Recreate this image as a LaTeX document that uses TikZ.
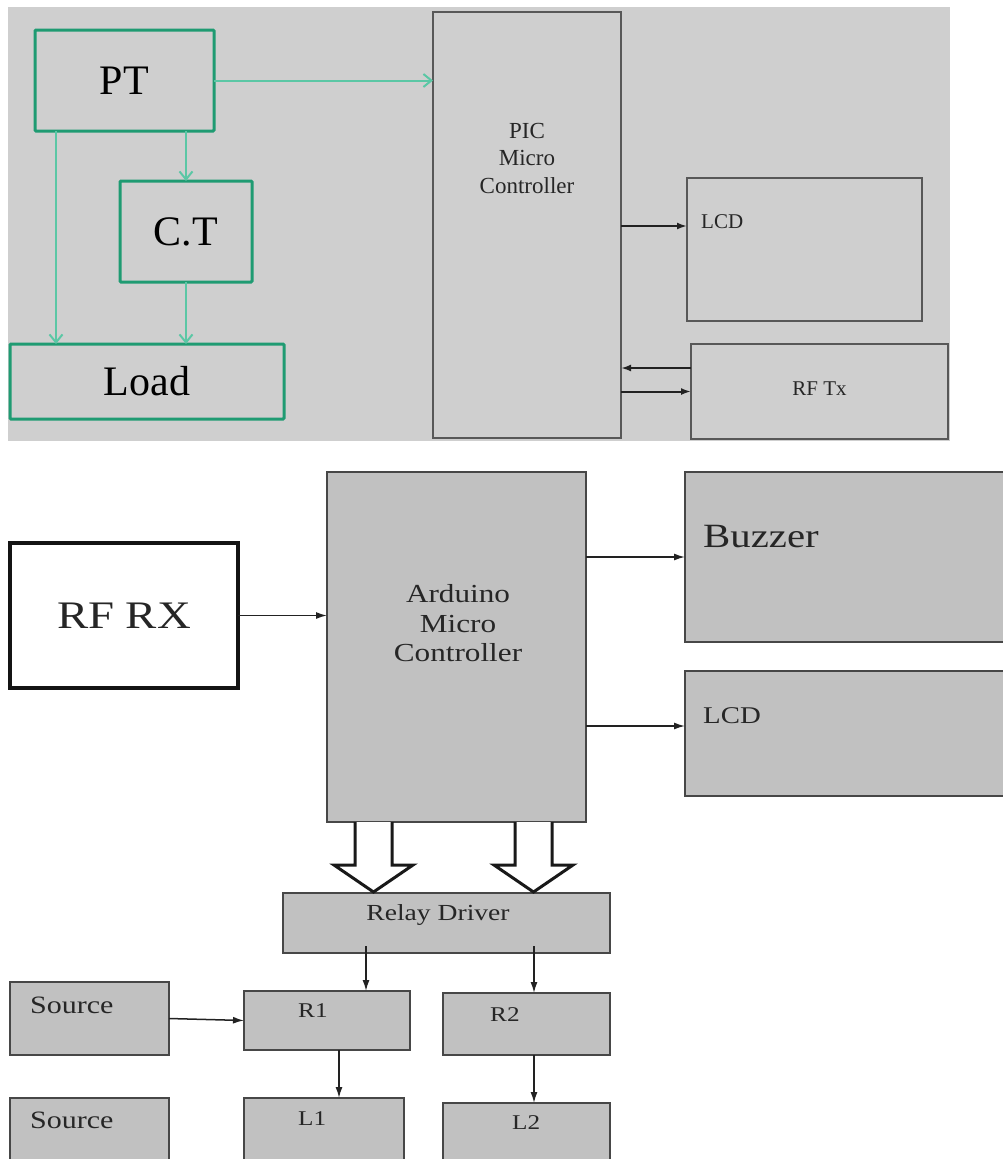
\documentclass[tikz,border=0pt]{standalone}
\usepackage{fontspec}
\setmainfont{Liberation Serif}
\newfontfamily\wideserif[FakeStretch=1.2]{Liberation Serif}
\usetikzlibrary{arrows.meta}
\definecolor{panelgray}{HTML}{CFCFCF}
\definecolor{boxgray}{HTML}{C1C1C1}
\definecolor{pcbgreen}{HTML}{1F9B72}
\definecolor{wiregreen}{HTML}{5BC7A5}
\definecolor{edgegray}{HTML}{585858}
\definecolor{inkgray}{HTML}{222222}
\newcommand{\sizedas}[2]{\fontsize{#1}{#2}\selectfont}
\begin{document}
\begin{tikzpicture}[x=1pt, y=-1pt,
    box/.style={rectangle, draw, outer sep=0pt, inner sep=0pt},
    greenbox/.style={box, draw=pcbgreen, line width=3pt, rounded corners=1pt,
                     font=\sizedas{42}{48}},
    picbox/.style={box, draw=edgegray, line width=2.5pt},
    unitbox/.style={box, draw=black!72, line width=1.8pt, fill=boxgray},
    greenwire/.style={draw=wiregreen, line width=2pt,
                      -{Straight Barb[length=8pt,width=13pt]}},
    wire/.style={draw=inkgray, line width=2pt, -{Latex[length=10pt,width=7pt]}},
    thinwire/.style={draw=inkgray, line width=1.5pt, -{Latex[length=11pt,width=7pt]}},
    hollow/.style={draw=black!90, line width=3pt, fill=white, line join=miter},
    txt/.style={inner sep=0pt, text=black!85}]
\useasboundingbox (0,0) rectangle (1002,1159);
\fill[white] (0,0) rectangle (1002,1159);
% transmitter side
\fill[panelgray] (8,7) rectangle (950,441);
\node[greenbox, minimum width=179, minimum height=101] (pt) at (124.5,80.5) {PT};
\node[greenbox, minimum width=132, minimum height=101] (ct) at (186,231.5) {C.T};
\node[greenbox, minimum width=274, minimum height=75] (load) at (147,381.5) {Load};
\node[picbox, minimum width=188, minimum height=426] (pic) at (527,225) {};
\node[picbox, minimum width=235, minimum height=143] (lcdt) at (804.5,249.5) {};
\node[picbox, minimum width=257, minimum height=95] (rftx) at (819.5,391.5) {};
\node[txt, align=center, font=\sizedas{23}{27.5}] (piclbl) at (527,158) {PIC\\Micro\\Controller};
\node[txt, anchor=base west, font=\sizedas{21}{25}] (lcdtlbl) at (701,228) {LCD};
\node[txt, anchor=base, font=\sizedas{21}{25}] (rftxlbl) at (819.5,395) {RF Tx};
\draw[greenwire] (pt.east) -- (pt.east -| pic.west);
\draw[greenwire] (pt.south -| ct.north) -- (ct.north);
\draw[greenwire] ([xshift=21pt]pt.south west) -- ([xshift=46pt]load.north west);
\draw[greenwire] (ct.south) -- (ct.south |- load.north);
\draw[wire] ([yshift=23.5pt]pic.east |- lcdt.west) -- ([yshift=23.5pt]lcdt.west);
\draw[wire] ([yshift=23.5pt]rftx.west) -- ([yshift=23.5pt]rftx.west -| pic.east);
\draw[wire] (pic.east |- rftx.west) -- (rftx.west);
% receiver side
\node[box, draw=black!92, line width=3.5pt, fill=white, minimum width=228, minimum height=145,
      text=black!85, font=\wideserif\sizedas{39}{45}] (rfrx) at (124,615.5) {RF RX};
\node[unitbox, minimum width=259, minimum height=350] (ard) at (456.5,647) {};
\node[unitbox, minimum width=327, minimum height=170] (buz) at (848.5,557) {};
\node[unitbox, minimum width=327, minimum height=125] (lcdb) at (848.5,733.5) {};
\node[unitbox, minimum width=327, minimum height=60] (rd) at (446.5,923) {};
\node[unitbox, minimum width=159, minimum height=73] (src1) at (89.5,1018.5) {};
\node[unitbox, minimum width=166, minimum height=59] (r1) at (327,1020.5) {};
\node[unitbox, minimum width=167, minimum height=62] (r2) at (526.5,1024) {};
\node[unitbox, minimum width=159, minimum height=77] (src2) at (89.5,1136.5) {};
\node[unitbox, minimum width=160, minimum height=77] (l1) at (324,1136.5) {};
\node[unitbox, minimum width=167, minimum height=72] (l2) at (526.5,1139) {};
\node[txt, align=center, font=\wideserif\sizedas{26}{29.5}] (ardlbl) at (458,623.5) {Arduino\\Micro\\Controller};
\node[txt, anchor=base west, font=\wideserif\sizedas{34}{40}] (buzlbl) at (703,547) {Buzzer};
\node[txt, anchor=base west, font=\wideserif\sizedas{24}{28}] (lcdblbl) at (703,723) {LCD};
\node[txt, anchor=base, font=\wideserif\sizedas{23}{27}] (rdlbl) at (438,920) {Relay Driver};
\node[txt, anchor=base west, font=\wideserif\sizedas{25}{30}] (src1lbl) at (30,1013) {Source};
\node[txt, anchor=base west, font=\wideserif\sizedas{25}{30}] (src2lbl) at (30,1128) {Source};
\node[txt, anchor=base west, font=\wideserif\sizedas{21}{25}] (r1lbl) at (298,1017) {R1};
\node[txt, anchor=base west, font=\wideserif\sizedas{21}{25}] (r2lbl) at (490,1021) {R2};
\node[txt, anchor=base west, font=\wideserif\sizedas{21}{25}] (l1lbl) at (298,1125) {L1};
\node[txt, anchor=base west, font=\wideserif\sizedas{21}{25}] (l2lbl) at (512,1129) {L2};
\draw[thinwire] (rfrx.east) -- (rfrx.east -| ard.west);
\draw[thinwire] (ard.east |- buz.west) -- (buz.west);
\draw[thinwire] ([yshift=7.5pt]ard.east |- lcdb.west) -- ([yshift=7.5pt]lcdb.west);
\draw[hollow] ([xshift=-101.5pt]ard.south) -- ++(0,43) -- ++(-21,0) -- ++(39.5,27)
              -- ++(39.5,-27) -- ++(-21,0) -- ++(0,-43);
\draw[hollow] ([xshift=58.5pt]ard.south) -- ++(0,43) -- ++(-21,0) -- ++(39.5,27)
              -- ++(39.5,-27) -- ++(-21,0) -- ++(0,-43);
\draw[thinwire] ([xshift=39pt,yshift=7pt]r1.north |- rd.south) -- ([xshift=39pt]r1.north);
\draw[thinwire] ([xshift=7.5pt,yshift=7pt]r2.north |- rd.south) -- ([xshift=7.5pt]r2.north);
\draw[thinwire] (src1.east) -- (r1.west);
\draw[thinwire] ([xshift=12pt]r1.south) -- ([xshift=12pt]r1.south |- l1.north);
\draw[thinwire] ([xshift=7.5pt]r2.south) -- ([xshift=7.5pt]r2.south |- l2.north);
\end{tikzpicture}
\end{document}
